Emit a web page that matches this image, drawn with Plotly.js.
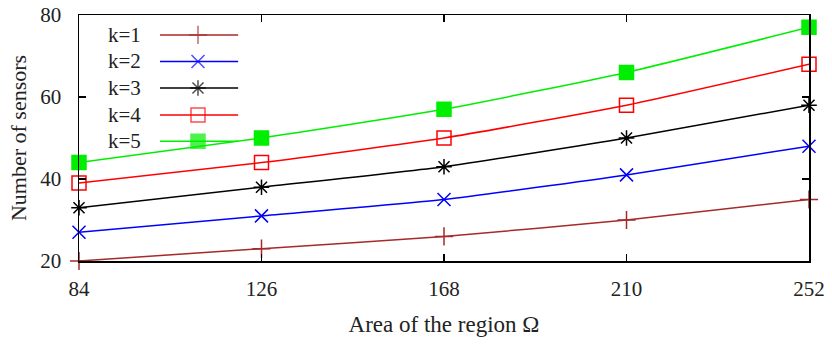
<!DOCTYPE html>
<html><head><meta charset="utf-8">
<script src="https://cdn.plot.ly/plotly-3.0.1.min.js"></script>
<style>html,body{margin:0;padding:0;background:#fff}#c{width:832px;height:344px}</style>
</head><body><div id="c"></div>
<script>
const areas = [84, 126, 168, 210, 252];
const k1 = [20, 23, 26, 30, 35];
const k2 = [27, 31, 35, 41, 48];
const k3 = [33, 38, 43, 50, 58];
const k4 = [39, 44, 50, 58, 68];
const k5 = [44, 50, 57, 66, 77];
const seriesNames = ['k=1', 'k=2', 'k=3', 'k=4', 'k=5'];
const seriesValues = [k1, k2, k3, k4, k5];

const styles = [
  {color: '#a52a2a', symbol: 'cross-thin-open', size: 13},
  {color: '#0000ff', symbol: 'x-thin-open', size: 13},
  {color: '#000000', symbol: 'asterisk-open', size: 13},
  {color: '#ff0000', symbol: 'square-open', size: 14},
  {color: '#00ee00', symbol: 'square', size: 14}
];
const FONT = '"Liberation Serif", "Times New Roman", serif';

const traces = [];
const annotations = [];
const legRows = [0.919, 0.811, 0.703, 0.594, 0.487];
const legTextX = 0.088, legL = 0.111, legM = 0.163, legR = 0.218;

seriesValues.forEach((vals, i) => {
  const s = styles[i];
  traces.push({
    x: areas, y: vals, type: 'scatter', mode: 'lines+markers', name: seriesNames[i],
    line: {color: s.color, width: 1.5, shape: 'spline', smoothing: 0.5},
    marker: {symbol: s.symbol, size: s.size, color: s.color, line: {color: s.color, width: 1.5}},
    cliponaxis: false, hoverinfo: 'skip', showlegend: false
  });
  traces.push({
    x: [legL, legM, legR], y: [legRows[i], legRows[i], legRows[i]],
    xaxis: 'x2', yaxis: 'y2', type: 'scatter', mode: 'lines+markers',
    line: {color: s.color, width: 1.5},
    marker: {symbol: s.symbol, size: [0, s.size, 0], color: s.color, line: {color: s.color, width: 1.5}},
    cliponaxis: false, hoverinfo: 'skip', showlegend: false
  });
  annotations.push({
    xref: 'paper', yref: 'paper', x: legTextX, y: legRows[i], xanchor: 'right', yanchor: 'middle',
    text: seriesNames[i], showarrow: false, font: {family: FONT, size: 21, color: '#222'}
  });
});

const axisCommon = {
  showline: true, linecolor: '#000', linewidth: 1.5, mirror: 'ticks',
  ticks: 'inside', ticklen: 7, tickwidth: 1.2, tickcolor: '#000',
  showgrid: false, zeroline: false,
  tickfont: {family: FONT, size: 21, color: '#222'}
};

const layout = {
  width: 832, height: 344,
  margin: {l: 79, r: 23, t: 15, b: 83},
  paper_bgcolor: '#fff', plot_bgcolor: '#fff',
  showlegend: false,
  xaxis: Object.assign({}, axisCommon, {
    range: [84, 252], tickvals: areas, ticktext: areas.map(String),
    ticklabelstandoff: 8,
    title: {text: 'Area of the region Ω', font: {family: FONT, size: 23, color: '#222'}, standoff: 16}
  }),
  yaxis: Object.assign({}, axisCommon, {
    range: [20, 80], tickvals: [20, 40, 60, 80],
    ticklabelstandoff: 12,
    title: {text: 'Number of sensors', font: {family: FONT, size: 22, color: '#222'}, standoff: 7}
  }),
  xaxis2: {overlaying: 'x', range: [0, 1], visible: false, fixedrange: true},
  yaxis2: {overlaying: 'y', range: [0, 1], visible: false, fixedrange: true},
  annotations: annotations
};

Plotly.newPlot('c', traces, layout, {staticPlot: true});
</script></body></html>
